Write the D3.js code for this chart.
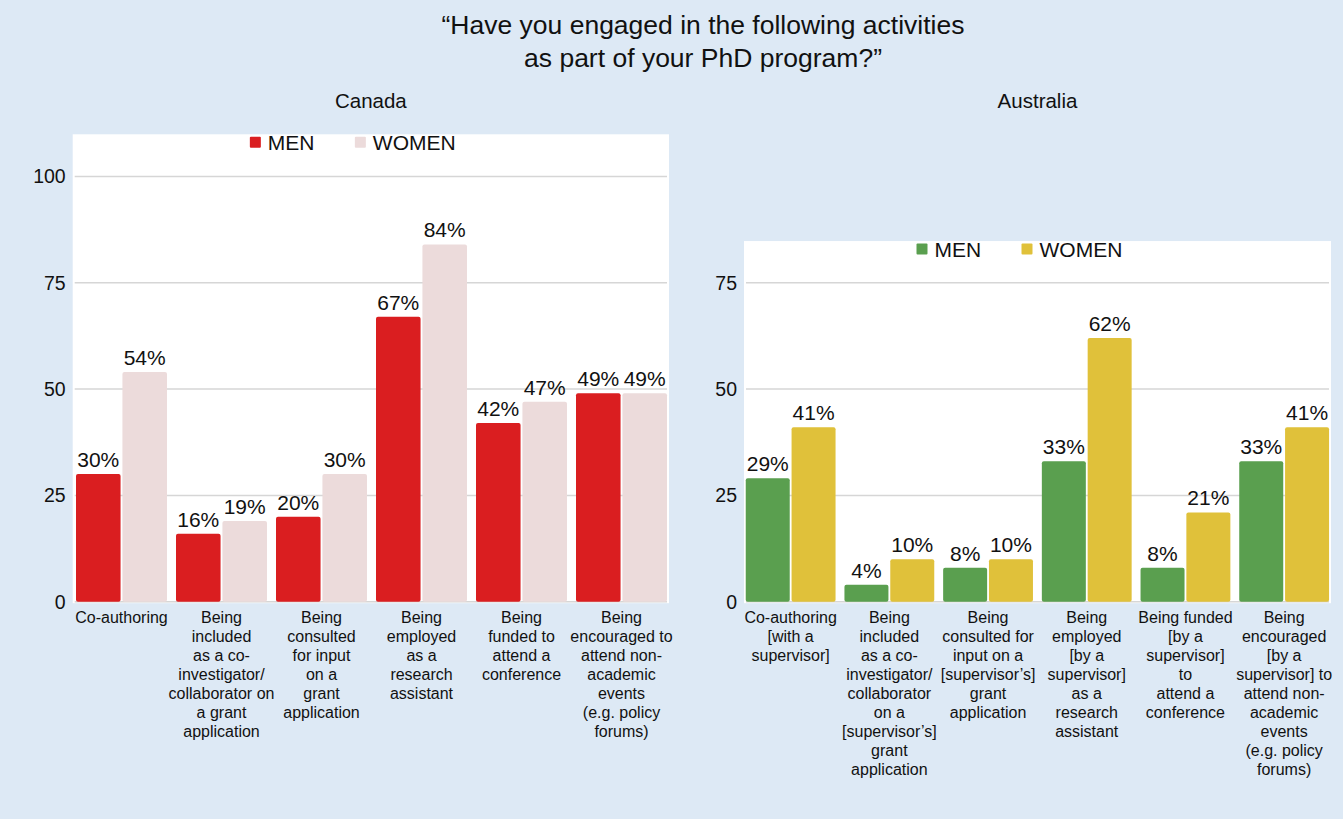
<!DOCTYPE html>
<html lang="en">
<head>
<meta charset="utf-8">
<title>PhD activities by gender</title>
<script src="https://d3js.org/d3.v7.min.js"></script>
<style>
    body { margin: 0; background: #dde9f5; }
    svg text { font-family: "Liberation Sans", Arial, Helvetica, sans-serif; fill: #111; }
    .grid line { stroke: #d6d6d6; stroke-width: 1.5; }
</style>
</head>
<body>
<div id="chart"></div>
<script>
// ---- data ----
const groups = ["MEN", "WOMEN"];

const canadaCategories = [
    ["Co-authoring"],
    ["Being", "included", "as a co-", "investigator/", "collaborator on", "a grant", "application"],
    ["Being", "consulted", "for input", "on a", "grant", "application"],
    ["Being", "employed", "as a", "research", "assistant"],
    ["Being", "funded to", "attend a", "conference"],
    ["Being", "encouraged to", "attend non-", "academic", "events", "(e.g. policy", "forums)"]
];
const canadaMen   = [30, 16, 20, 67, 42, 49];
const canadaWomen = [54, 19, 30, 84, 47, 49];
const canadaTicks = [0, 25, 50, 75, 100];

const australiaCategories = [
    ["Co-authoring", "[with a", "supervisor]"],
    ["Being", "included", "as a co-", "investigator/", "collaborator", "on a", "[supervisor\u2019s]", "grant", "application"],
    ["Being", "consulted for", "input on a", "[supervisor\u2019s]", "grant", "application"],
    ["Being", "employed", "[by a", "supervisor]", "as a", "research", "assistant"],
    ["Being funded", "[by a", "supervisor]", "to", "attend a", "conference"],
    ["Being", "encouraged", "[by a", "supervisor] to", "attend non-", "academic", "events", "(e.g. policy", "forums)"]
];
const australiaMen   = [29, 4, 8, 33, 8, 33];
const australiaWomen = [41, 10, 10, 62, 21, 41];
const australiaTicks = [0, 25, 50, 75];

const titleLines = ["\u201cHave you engaged in the following activities", "as part of your PhD program?\u201d"];

// ---- layout ----
const W = 1343, H = 819;
const svg = d3.select("#chart").append("svg")
    .attr("width", W).attr("height", H);

svg.append("rect").attr("width", W).attr("height", H).attr("fill", "#dde9f5");

svg.selectAll("text.title").data(titleLines).enter().append("text")
    .attr("class", "title")
    .attr("x", 703).attr("y", (d, i) => 34 + i * 33)
    .attr("text-anchor", "middle")
    .attr("font-size", "26.5px")
    .text(d => d);

// y scale shared pixel mapping: 0 -> 601.7, 100 -> 176.4
const y = d3.scaleLinear().domain([0, 100]).range([601.7, 176.4]);

function drawPanel(opt){
    const g = svg.append("g");
    const cats = opt.cats.map((c, i) => i);

    const x0 = d3.scaleBand().domain(cats).range(opt.range)
        .paddingInner(0.09).paddingOuter(0.045);
    const x1 = d3.scaleBand().domain(groups).range([0, x0.bandwidth()]).paddingInner(0.04);

    const top = y(opt.yMax);
    const cx = (opt.panel[0] + opt.panel[1]) / 2;

    // country title
    svg.append("text")
        .attr("x", cx).attr("y", 107.5)
        .attr("text-anchor", "middle")
        .attr("font-size", "20.5px")
        .text(opt.name);

    // white plot panel
    g.append("rect")
        .attr("x", opt.panel[0]).attr("y", top)
        .attr("width", opt.panel[1] - opt.panel[0])
        .attr("height", y(0) - top + 1.5)
        .attr("fill", "#fff");

    // gridlines
    g.append("g").attr("class", "grid")
        .selectAll("line").data(opt.ticks).enter().append("line")
        .attr("x1", opt.panel[0] + 2).attr("x2", opt.panel[1] - 2)
        .attr("y1", d => y(d)).attr("y2", d => y(d));

    // y tick labels
    g.selectAll("text.tick").data(opt.ticks).enter().append("text")
        .attr("class", "tick")
        .attr("x", opt.panel[0] - 7).attr("y", d => y(d) + 7)
        .attr("text-anchor", "end")
        .attr("font-size", "19.5px")
        .text(d => d);

    const rows = cats.map(i => ({i: i, vals: [opt.men[i], opt.women[i]]}));
    const grp = g.selectAll("g.cat").data(rows).enter().append("g")
        .attr("class", "cat")
        .attr("transform", d => "translate(" + x0(d.i) + ",0)");

    grp.selectAll("rect").data(d => d.vals.map((v, k) => ({key: groups[k], v: v})))
        .enter().append("rect")
        .attr("x", d => x1(d.key))
        .attr("y", d => y(d.v))
        .attr("width", x1.bandwidth())
        .attr("height", d => y(0) - y(d.v))
        .attr("rx", 2)
        .attr("fill", d => d.key == "MEN" ? opt.colors[0] : opt.colors[1]);

    grp.selectAll("text.val").data(d => d.vals.map((v, k) => ({key: groups[k], v: v})))
        .enter().append("text")
        .attr("class", "val")
        .attr("x", d => x1(d.key) + x1.bandwidth() / 2)
        .attr("y", d => y(d.v) - 7)
        .attr("text-anchor", "middle")
        .attr("font-size", "21px")
        .text(d => d.v + "%");

    // category labels
    grp.append("text")
        .attr("text-anchor", "middle")
        .attr("font-size", "16px")
        .selectAll("tspan").data(d => opt.cats[d.i]).enter().append("tspan")
        .attr("x", x0.bandwidth() / 2)
        .attr("y", (d, k) => 623 + k * 19)
        .text(d => d);

    // legend
    const leg = g.append("g").attr("transform", "translate(0," + (top + 8) + ")");
    const legX = [cx - 121, cx - 16];
    groups.forEach((k, j) => {
        leg.append("rect")
            .attr("x", legX[j]).attr("y", -5.5)
            .attr("width", 11).attr("height", 11)
            .attr("rx", 1)
            .attr("fill", opt.colors[j]);
        leg.append("text")
            .attr("x", legX[j] + 18).attr("y", 7.5)
            .attr("font-size", "21px")
            .text(k);
    });
}

drawPanel({
    name: "Canada",
    cats: canadaCategories, men: canadaMen, women: canadaWomen, ticks: canadaTicks,
    range: [71.5, 671.5], panel: [72.7, 669], yMax: 109.9,
    colors: ["#da1e20", "#ecdbdb"]
});

drawPanel({
    name: "Australia",
    cats: australiaCategories, men: australiaMen, women: australiaWomen, ticks: australiaTicks,
    range: [741.3, 1333.5], panel: [744, 1331], yMax: 84.8,
    colors: ["#5a9f4f", "#e0c13a"]
});
</script>
</body>
</html>
